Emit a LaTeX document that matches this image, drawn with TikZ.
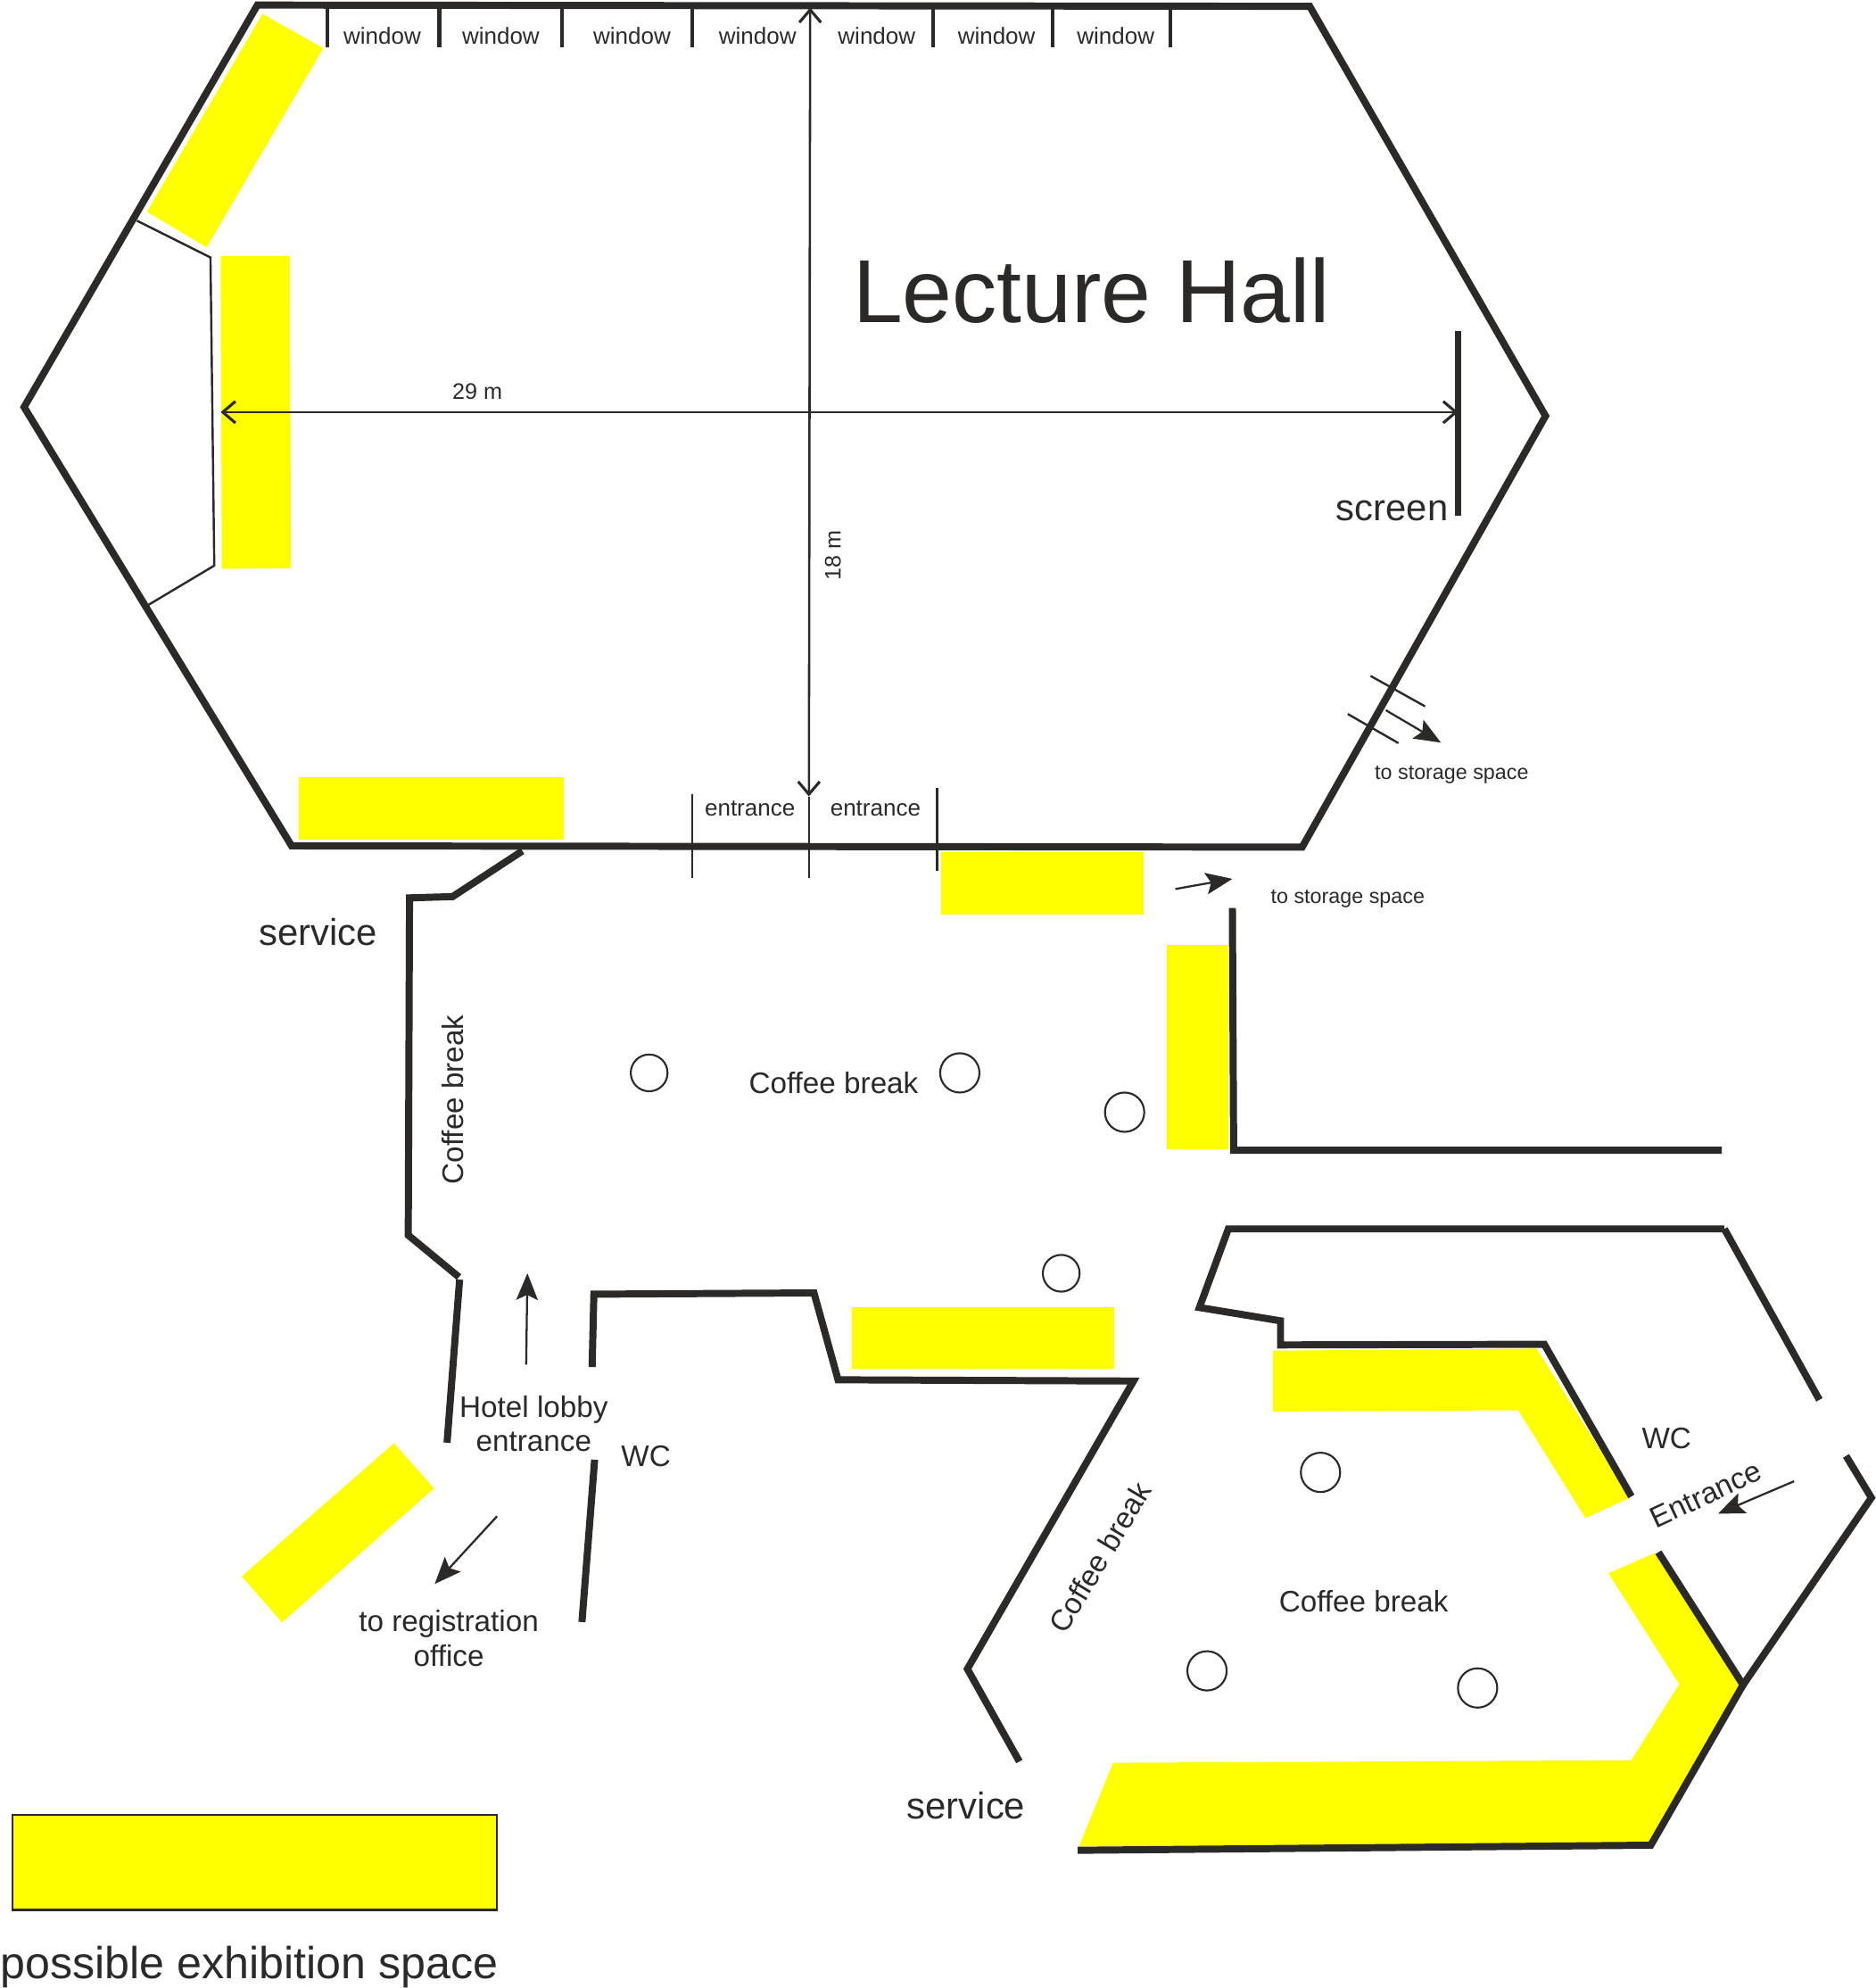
\documentclass[tikz,border=0pt]{standalone}
\usepackage{fontspec}
\setmainfont{Liberation Sans}
\usetikzlibrary{arrows.meta}
\definecolor{ink}{HTML}{2B2A29}
\definecolor{exhib}{HTML}{FFFF00}
\newcommand{\fs}[1]{\fontsize{#1}{#1}\selectfont}
\tikzset{
  wall/.style={draw=ink,line width=5.6pt,line join=miter},
  thinwall/.style={draw=ink,line width=1.7pt},
  tick/.style={draw=ink,line width=3pt},
  exspace/.style={fill=exhib,draw=none},
  pillar/.style={draw=ink,line width=1.5pt,fill=none},
  measure/.style={draw=ink,line width=1.8pt,{Straight Barb[length=10pt,width=17pt,line width=2.2pt]}-{Straight Barb[length=10pt,width=17pt,line width=2.2pt]}},
  flow/.style={draw=ink,line width=1.6pt,-{Stealth[length=21pt,width=17pt,inset=4pt]}},
  lbl/.style={text=ink,inner sep=0pt,align=center,font=\fs{23.4}},
  small/.style={text=ink,inner sep=0pt,font=\fs{18.3}},
  tiny/.style={text=ink,inner sep=0pt,font=\fs{16.4}},
  big/.style={text=ink,inner sep=0pt,font=\fs{29.4}}
}
\begin{document}
\begin{tikzpicture}[x=1pt,y=-1pt]
\useasboundingbox (0,0) rectangle (1479,1567.6);
% exhibition spaces
\fill[exspace] (207,11) -- (255,38) -- (163,195) -- (116,167) -- cycle;
\fill[exspace] (174,202) -- (228.5,202) -- (229.5,448) -- (175,448.5) -- cycle;
\fill[exspace] (236,613) rectangle (445,662);
\fill[exspace] (742,672) rectangle (902,721);
\fill[exspace] (920,745) rectangle (969,906);
\fill[exspace] (672,1031) rectangle (879,1079);
\fill[exspace] (310.8,1138) -- (342.4,1173.6) -- (222.4,1279.3) -- (190.7,1243) -- cycle;
\fill[exspace] (1004,1065) -- (1212,1063.4) -- (1285.6,1181) -- (1250.5,1197) -- (1197.4,1112) -- (1004,1113) -- cycle;
\fill[exspace] (1305.5,1224.5) -- (1372,1328.7) -- (1302,1454.6) -- (851,1456) -- (878,1390) -- (1286.6,1388) -- (1324.5,1328) -- (1268.6,1240.6) -- cycle;
% lecture hall
\draw[wall] (203,4) -- (1033,5) -- (1219,328) -- (1027,668) -- (230,667) -- (19,321) -- cycle;
\draw[thinwall] (108,174) -- (166,203) -- (169,446) -- (117,477);
\foreach \x in {258,346.5,443.5,546,736,830,923}{\draw[tick] (\x,4) -- (\x,37);}
\coordinate (vtop) at (639,6);
\coordinate (vbot) at (638,628);
\coordinate (hleft) at (174,325);
\coordinate (hright) at (1150,325);
\draw[measure] (vtop) -- (vbot);
\draw[measure] (hleft) -- (hright);
\draw[draw=ink,line width=5.6pt] (1150,261) -- (1150,407);
\foreach \p/\n in {301.5/w1,395/w2,498.5/w3,597.5/w4,691.5/w5,786/w6,880/w7}{\node[small] (\n) at (\p,28) {window};}
\node[text=ink,inner sep=0pt,font=\fs{70.6}] (title) at (861,229) {Lecture Hall};
\node[text=ink,inner sep=0pt,font=\fs{17.7}] (w29) at (376.5,309) {29 m};
\node[text=ink,inner sep=0pt,font=\fs{17.7},rotate=90] (w18) at (657,438) {18 m};
\node[big] (scr) at (1098,403) {screen};
% storage door
\draw[draw=ink,line width=1.7pt] (1081,533) -- (1124,557);
\draw[draw=ink,line width=1.7pt] (1063,563) -- (1103,586);
\coordinate (sa) at (1093,560);
\coordinate (sb) at (1136.5,585.6);
\draw[flow] (sa) -- (sb);
\node[tiny] (st1) at (1145,611) {to storage space};
\coordinate (sc) at (927,701);
\coordinate (sd) at (972,693);
\draw[flow] (sc) -- (sd);
\node[tiny] (st2) at (1063,709) {to storage space};
% entrances
\draw[thinwall] (546,626) -- (546,692);
\draw[thinwall] (638,628) -- (638,692);
\draw[thinwall] (739,621) -- (739,687);
\node[small] (e1) at (591.5,637.5) {entrance};
\node[small] (e2) at (690.5,637.5) {entrance};
% corridor walls
\draw[wall] (412,671) -- (357,707) -- (323,708) -- (322,974) -- (362,1007);
\draw[wall] (362.5,1009) -- (352.6,1137.6);
\draw[wall] (467,1078) -- (468.4,1020.5) -- (642,1019.5) -- (661,1088) -- (894,1089) -- (763,1316) -- (804,1389);
\draw[wall] (469,1151) -- (459,1279);
\draw[wall] (972,716) -- (973,907) -- (1358,907);
\draw[wall] (1360,969) -- (968.8,969) -- (946,1031) -- (1010,1041.5) -- (1010,1060.5) -- (1218,1060) -- (1286.7,1180);
\draw[wall] (1360,969) -- (1435,1103.8);
\draw[wall] (1456,1148) -- (1476,1181) -- (1374.8,1328.6);
\draw[wall] (1308,1224) -- (1374.8,1328.6) -- (1302,1455) -- (850,1459);
% flow arrows
\coordinate (ha) at (415,1076);
\coordinate (hb) at (416,1004);
\draw[flow] (ha) -- (hb);
\coordinate (ra) at (392,1195.6);
\coordinate (rb) at (342.9,1249);
\draw[flow] (ra) -- (rb);
\coordinate (ea) at (1415,1168);
\coordinate (eb) at (1355,1193.6);
\draw[flow] (ea) -- (eb);
% pillars
\foreach \x/\y/\r in {512/846/14.5,757/846/15.5,887/877/15.5,837/1004/14.5,1041.5/1161/15.5,952/1317.5/15.5,1165.4/1331/15.5}{\draw[pillar] (\x,\y) circle (\r);}
% labels
\node[big] (sv1) at (251,735) {service};
\node[big] (sv2) at (762,1424) {service};
\node[lbl,rotate=90] (cb1) at (357,867) {Coffee break};
\node[lbl] (cb2) at (657.5,854) {Coffee break};
\node[lbl,rotate=59] at (867.5,1228) (cb3) {Coffee break};
\node[lbl] (cb4) at (1075.6,1262.5) {Coffee break};
\node[lbl] (hl1) at (421,1111.5) {Hotel lobby};
\node[lbl] (hl2) at (421,1137) {entrance};
\node[lbl] (wc1) at (509.5,1148) {WC};
\node[lbl] (wc2) at (1314.5,1134) {WC};
\node[lbl] (tr1) at (354,1280.5) {to registration};
\node[lbl] (tr2) at (354,1305.5) {office};
\node[lbl,rotate=25] (ent) at (1345.5,1178.5) {Entrance};
% legend
\node[draw=ink,line width=1.5pt,fill=exhib,minimum width=382pt,minimum height=75pt,inner sep=0pt] (legend) at (201,1468.5) {};
\node[text=ink,inner sep=0pt,font=\fs{35.3}] (legtxt) at (196.5,1551) {possible exhibition space};
\end{tikzpicture}
\end{document}
